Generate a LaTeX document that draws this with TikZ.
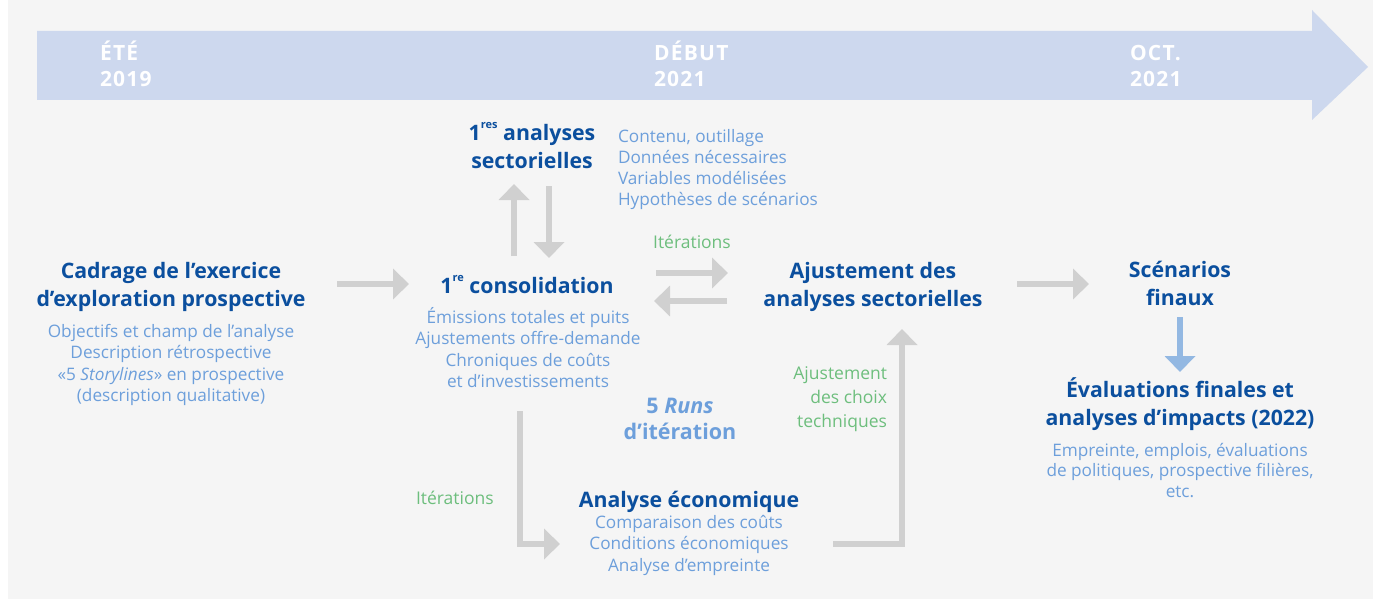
\documentclass[tikz,border=0pt]{standalone}
\usepackage{fontspec}
\setmainfont{Open Sans}
\usetikzlibrary{arrows.meta}
\definecolor{bg}{HTML}{F5F5F5}
\definecolor{band}{HTML}{CDD8EE}
\definecolor{dblue}{HTML}{0B4F9E}
\definecolor{lblue}{HTML}{6D9FDB}
\definecolor{grn}{HTML}{6DBE7D}
\definecolor{agray}{HTML}{D0D0D0}
\definecolor{ablue}{HTML}{93B8E2}
\newcommand{\supr}[1]{\raisebox{0.55em}{\fontsize{11}{11}\selectfont #1}}
\begin{document}
\begin{tikzpicture}[x=1pt,y=-1pt,
  every node/.style={inner sep=0pt,outer sep=0pt},
  datelbl/.style={anchor=base west,align=left,text=white,
    font=\fontsize{21}{26}\selectfont\bfseries\addfontfeature{LetterSpace=6}},
  ttl/.style={anchor=base,align=center,text=dblue,
    font=\fontsize{21.3}{28}\selectfont\bfseries},
  sub/.style={anchor=base,align=center,text=lblue,
    font=\fontsize{17.2}{21.5}\selectfont},
  grnlbl/.style={text=grn,font=\fontsize{17.5}{24}\selectfont},
  conn/.style={draw=agray,line width=6pt,line join=miter,
    -{Triangle[length=16pt,width=30pt]}},
  connb/.style={conn,draw=ablue}
]
\useasboundingbox (0,0) rectangle (1373,599);
\fill[bg] (8,0) rectangle (1373,599);
% timeline band
\fill[band] (37,31) -- (1312,31) -- (1312,10) -- (1368,67) -- (1312,120)
  -- (1312,100) -- (37,100) -- cycle;
% note: base anchor of a multi-line node = baseline of its last line
\node[datelbl] (d1) at (100,87) {ÉTÉ\\2019};
\node[datelbl] (d2) at (654,87) {DÉBUT\\2021};
\node[datelbl] (d3) at (1130,87) {OCT.\\2021};

% texts
\node[ttl] (cadT) at (171,306) {Cadrage de l’exercice\\d’exploration prospective};
\node[sub] (cadS) at (171,401.5) {Objectifs et champ de l’analyse\\Description rétrospective\\«5 \textit{Storylines}» en prospective\\(description qualitative)};

\node[ttl] (secT) at (532,168) {1\supr{res} analyses\\sectorielles};
\node[sub,anchor=base west,align=left,font=\fontsize{17.2}{21}\selectfont] (secS) at (618,205) {Contenu, outillage\\Données nécessaires\\Variables modélisées\\Hypothèses de scénarios};

\node[ttl] (conT) at (527,293) {1\supr{re} consolidation};
\node[sub] (conS) at (528,387.5) {Émissions totales et puits\\Ajustements offre-demande\\Chroniques de coûts\\et d’investissements};

\node[grnlbl,anchor=base] (it1) at (692,248) {Itérations};

\node[ttl] (ajuT) at (873,306) {Ajustement des\\analyses sectorielles};
\node[grnlbl,anchor=base east,align=right] (choix) at (887,427) {Ajustement\\des choix\\techniques};

\node[anchor=base,align=center,text=lblue,font=\fontsize{21.5}{26}\selectfont\bfseries] (runs) at (680,439) {5 \textit{Runs}\\d’itération};

\node[grnlbl,anchor=base west] (it2) at (416,504) {Itérations};

\node[ttl] (ecoT) at (689,507) {Analyse économique};
\node[sub] (ecoS) at (689,571) {Comparaison des coûts\\Conditions économiques\\Analyse d’empreinte};

\node[ttl] (scnT) at (1180,305) {Scénarios\\finaux};
\node[ttl] (evaT) at (1180,425) {Évaluations finales et\\analyses d’impacts (2022)};
\node[sub,font=\fontsize{17.2}{20.5}\selectfont] (evaS) at (1180,497) {Empreinte, emplois, évaluations\\de politiques, prospective filières,\\etc.};

% connector end points
\coordinate (a1s) at (337,284); \coordinate (a1e) at (409,284);
\coordinate (a2s) at (514,256); \coordinate (a2e) at (514,184);
\coordinate (a3s) at (549,186); \coordinate (a3e) at (549,258);
\coordinate (a4s) at (656,273); \coordinate (a4e) at (728,273);
\coordinate (a5s) at (727,301); \coordinate (a5e) at (654,301);
\coordinate (a6s) at (1017,284); \coordinate (a6e) at (1089,284);
\coordinate (a7s) at (1180,317); \coordinate (a7e) at (1180,372);
\coordinate (a8s) at (520,411); \coordinate (a8e) at (560,544);
\coordinate (a9s) at (833,544); \coordinate (a9e) at (902,329);

\draw[conn] (a1s) -- (a1e);
\draw[conn] (a2s) -- (a2e);
\draw[conn] (a3s) -- (a3e);
\draw[conn] (a4s) -- (a4e);
\draw[conn] (a5s) -- (a5e);
\draw[conn] (a6s) -- (a6e);
\draw[connb] (a7s) -- (a7e);
\draw[conn] (a8s) |- (a8e);
\draw[conn] (a9s) -| (a9e);
\end{tikzpicture}
\end{document}
